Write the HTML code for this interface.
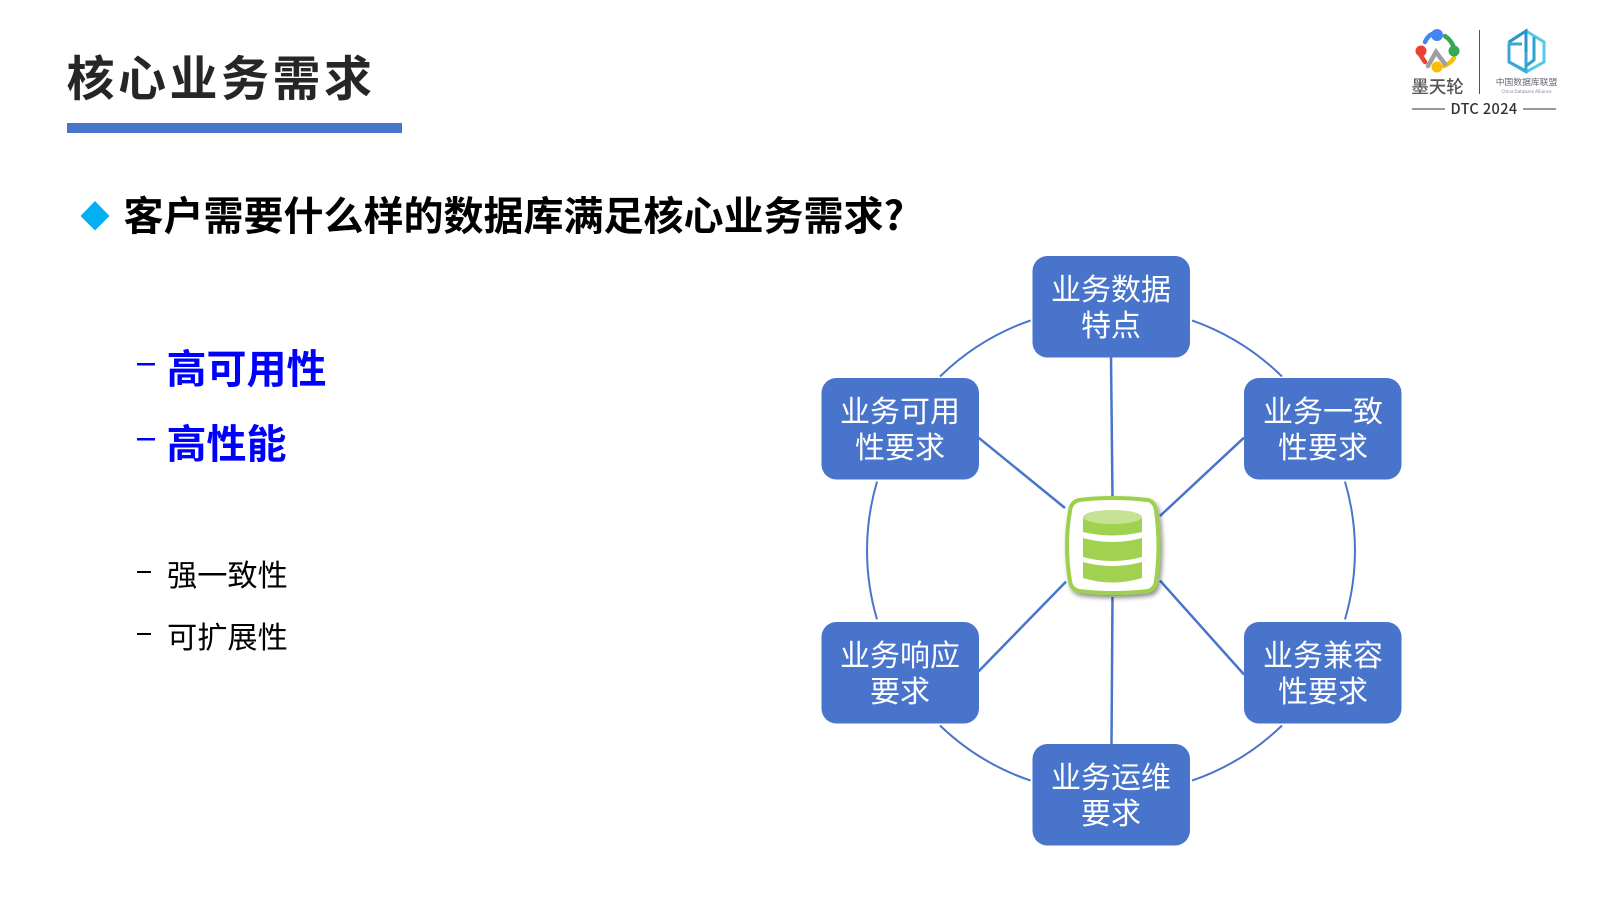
<!DOCTYPE html>
<html lang="zh"><head><meta charset="utf-8"><title>核心业务需求</title>
<style>
html,body{margin:0;padding:0;background:#fff;width:1600px;height:900px;overflow:hidden}
svg{display:block}
text{font-family:"Noto Sans CJK SC","Liberation Sans",sans-serif}
.n{font-size:30px;fill:#fff;text-anchor:middle}
.d{fill:none;stroke:#4874cb;stroke-width:2}
</style></head><body>
<svg width="1600" height="900" viewBox="0 0 1600 900" xmlns="http://www.w3.org/2000/svg">
<defs><filter id="s" x="-20%" y="-20%" width="150%" height="150%"><feDropShadow dx="2" dy="3" stdDeviation="2.5" flood-color="#000" flood-opacity=".45"/></filter></defs>
<rect width="1600" height="900" fill="#fff"/>
<text x="66.500" y="95.500" font-size="48" font-weight="700" fill="#262626" letter-spacing="3.500">核心业务需求</text>
<rect x="67" y="123" width="335" height="10" fill="#4874cb"/>
<polygon points="95,201 109.500,216 95,230.500 80.500,216" fill="#00b0f0"/>
<text x="123.500" y="230" font-size="40" font-weight="700" fill="#000">客户需要什么样的数据库满足核心业务需求?</text>
<rect x="137" y="363" width="18" height="2.500" fill="#00f"/>
<rect x="137" y="438" width="18" height="2.500" fill="#00f"/>
<text x="166.500" y="383" font-size="40" font-weight="700" fill="#00f">高可用性</text>
<text x="166.500" y="458" font-size="40" font-weight="700" fill="#00f">高性能</text>
<rect x="137" y="571" width="14" height="2" fill="#000"/>
<rect x="137" y="633" width="14" height="2" fill="#000"/>
<text x="167" y="586" font-size="30.200" fill="#000">强一致性</text>
<text x="167" y="648" font-size="30.200" fill="#000">可扩展性</text>

<g class="d">
<path d="M940 376.500A243.500 243.500 0 0 1 1030.600 320.400"/>
<path d="M1192 320.400A243.500 243.500 0 0 1 1282 376.500"/>
<path d="M1345 481.600A243.500 243.500 0 0 1 1345 619.400"/>
<path d="M1282 725.500A243.500 243.500 0 0 1 1192 780.600"/>
<path d="M1030.600 780.600A243.500 243.500 0 0 1 940 725.500"/>
<path d="M877 619.400A243 243 0 0 1 877 481.600"/>
<path stroke-width="2.500" d="M1111 357L1112.500 497M1112.500 597L1111.500 744M978.600 437.700L1065 508M1244 437.700L1160 516M978.600 671.400L1066 581.600M1244 674.500L1160 580.600"/>
</g>
<g fill="#4874cb">
<rect x="1032.500" y="256" width="157.500" height="101.500" rx="15"/>
<rect x="821.500" y="378" width="157.500" height="101.500" rx="15"/>
<rect x="1244" y="378" width="157.500" height="101.500" rx="15"/>
<rect x="821.500" y="622" width="157.500" height="101.500" rx="15"/>
<rect x="1244" y="622" width="157.500" height="101.500" rx="15"/>
<rect x="1032.500" y="744" width="157.500" height="101.500" rx="15"/>
</g>
<text class="n" x="1111" y="300">业务数据</text><text class="n" x="1111" y="336">特点</text>
<text class="n" x="900" y="422">业务可用</text><text class="n" x="900" y="458">性要求</text>
<text class="n" x="1323" y="422">业务一致</text><text class="n" x="1323" y="458">性要求</text>
<text class="n" x="900" y="666">业务响应</text><text class="n" x="900" y="702">要求</text>
<text class="n" x="1323" y="666">业务兼容</text><text class="n" x="1323" y="702">性要求</text>
<text class="n" x="1111" y="788">业务运维</text><text class="n" x="1111" y="824">要求</text>

<path d="M1079 500Q1112 496 1148 500Q1155 502 1156 511Q1161 545 1156 581Q1155 589 1148 591Q1112 595 1079 591Q1071 589 1070 581Q1064 545 1070 511Q1071 502 1079 500Z" fill="#fff" stroke="#9dd04e" stroke-width="4" filter="url(#s)"/>
<path d="M1083 517V532Q1112 539 1142 532V517Z" fill="#a0d24f"/>
<ellipse cx="1112.500" cy="517" rx="29.500" ry="7" fill="#c5e295"/>
<path d="M1083 538Q1112 546 1142 538V557Q1112 565 1083 557Z" fill="#a0d24f"/>
<path d="M1083 562Q1112 570 1142 562V578Q1112 587 1083 578Z" fill="#a0d24f"/>

<g fill="none" stroke-width="4.500" stroke-linecap="round">
<path d="M1425 42Q1429 33 1437 33" stroke="#4285f4"/>
<path d="M1445 36Q1452 41 1454 48" stroke="#34a853"/>
<path d="M1421 56L1425 62" stroke="#ea4335"/>
<path d="M1444 66Q1451 63 1454 58" stroke="#fbbc05"/>
<path d="M1428 66L1436 52L1445 64" stroke="#9e9e9e"/>
</g>
<circle cx="1437" cy="35" r="6" fill="#4285f4"/>
<circle cx="1454" cy="51" r="5.500" fill="#34a853"/>
<circle cx="1421" cy="51" r="5.500" fill="#ea4335"/>
<circle cx="1437" cy="67" r="5.500" fill="#fbbc05"/>
<text x="1437.500" y="93" font-size="17.500" font-weight="500" fill="#555" text-anchor="middle">墨天轮</text>
<rect x="1479" y="30" width="1" height="64" fill="#555"/>
<g fill="none" stroke-width="3">
<path d="M1509 42L1526 31L1544 42V62L1526 72L1509 62Z" stroke="#57c9e8"/>
<path d="M1509 42L1526 31L1526 52" stroke="#2a93c9"/>
<path d="M1509 44H1522M1509 44V62L1526 71V52" stroke="#3aa6d6"/>
<path d="M1534 37V60L1526 66" stroke="#2fa3cf"/>
</g>
<text x="1526.500" y="85" font-size="8.800" fill="#667" text-anchor="middle">中国数据库联盟</text>
<text x="1526.500" y="93" font-size="4.500" fill="#889" text-anchor="middle">China Database Alliance</text>
<rect x="1412" y="108.500" width="33" height="1" fill="#333"/>
<rect x="1523" y="108.500" width="33" height="1" fill="#333"/>
<text x="1484" y="114" font-size="14.500" font-weight="500" fill="#333" text-anchor="middle" letter-spacing=".4">DTC 2024</text>
</svg>
</body></html>
